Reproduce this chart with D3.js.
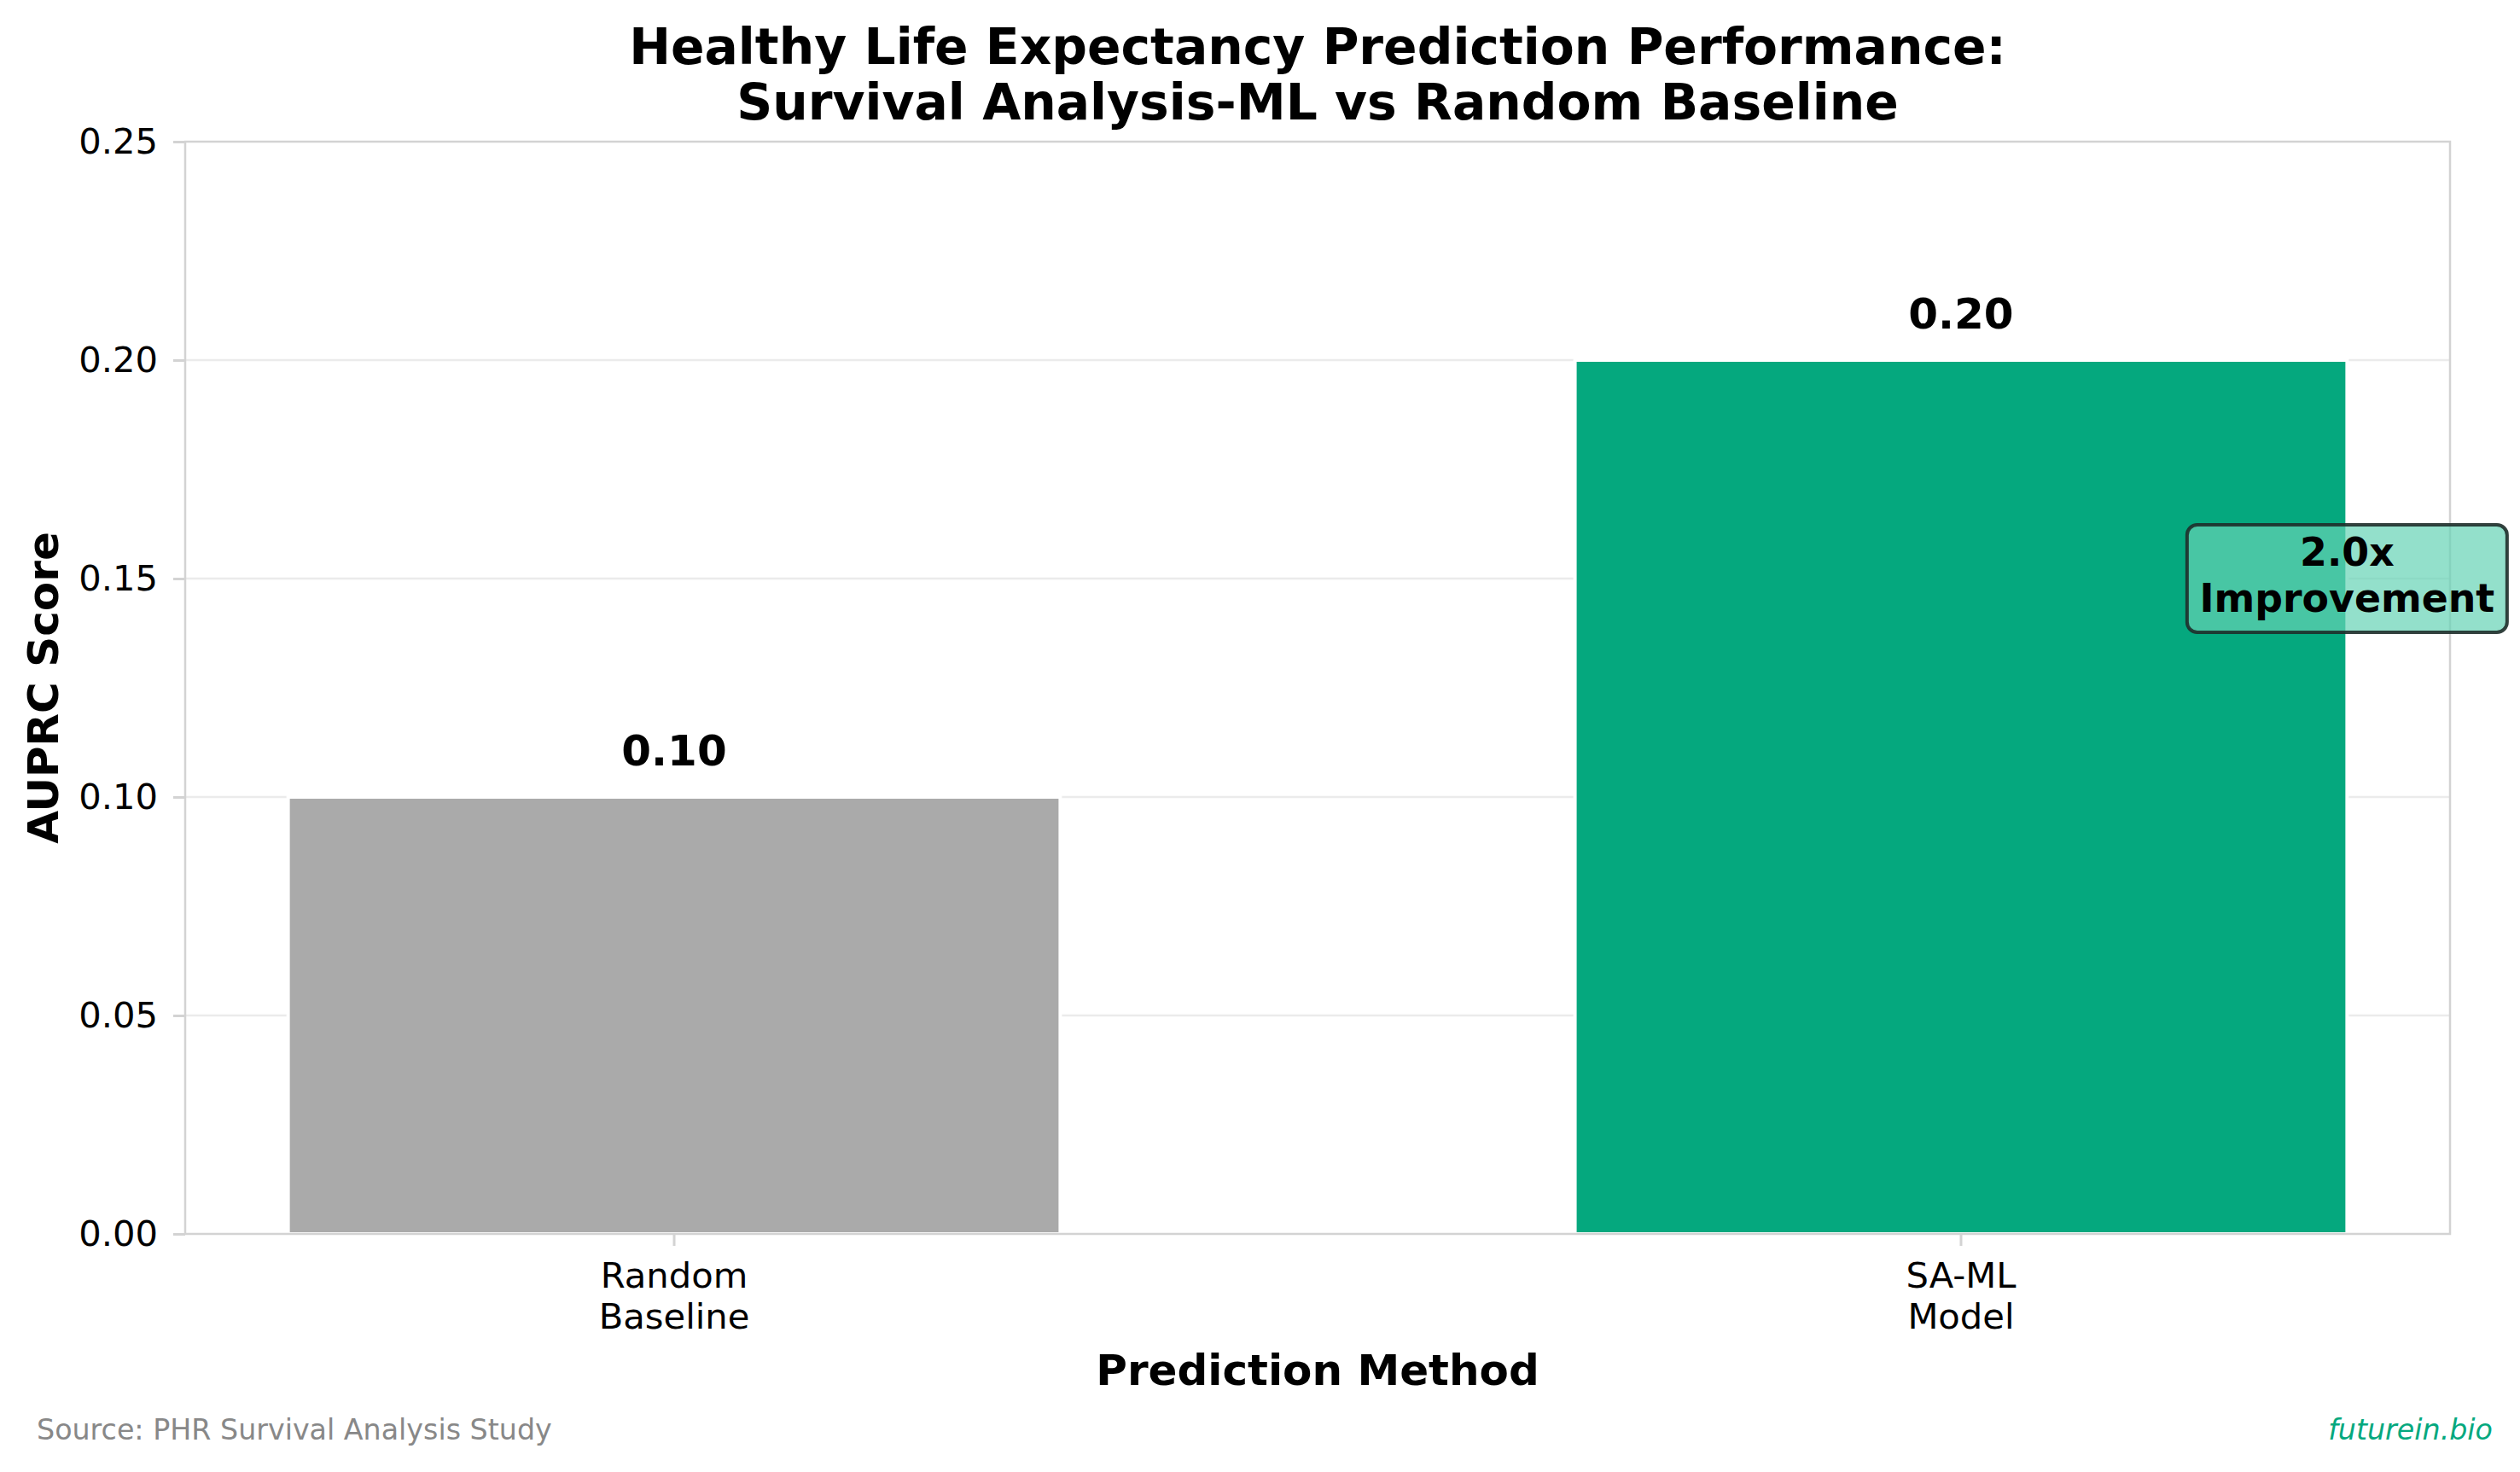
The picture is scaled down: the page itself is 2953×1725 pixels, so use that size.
<!DOCTYPE html>
<html>
<head>
<meta charset="utf-8">
<script src="https://cdn.jsdelivr.net/npm/d3@7"></script>
<style>
  html, body { margin: 0; padding: 0; background: #ffffff; }
  svg { display: block; font-family: "DejaVu Sans", sans-serif; }
</style>
</head>
<body>
<svg id="chart" width="2953" height="1725"></svg>
<script>
// ---- data ----
const categories = ["Random\nBaseline", "SA-ML\nModel"];
const values = [0.10, 0.20];
const valueLabels = ["0.10", "0.20"];
const barColors = ["#aaaaaa", "#05a87e"];
const yTicks = [0.00, 0.05, 0.10, 0.15, 0.20, 0.25];
const titleLines = ["Healthy Life Expectancy Prediction Performance:", "Survival Analysis-ML vs Random Baseline"];
const annotationLines = ["2.0x", "Improvement"];
const annotationValue = 0.15;

// ---- layout ----
const W = 2953, H = 1725;
const L = 217, R = 2871, T = 166, B = 1446;
const svg = d3.select("#chart");

const x = d3.scaleBand().domain(d3.range(categories.length)).range([L, R])
  .paddingInner(0.4).paddingOuter(0.08);
const y = d3.scaleLinear().domain([0, 0.25]).range([B, T]);

// grid
svg.append("g").selectAll("line").data(yTicks.slice(1, -1)).join("line")
  .attr("x1", L).attr("x2", R)
  .attr("y1", d => y(d)).attr("y2", d => y(d))
  .attr("stroke", "#ebebeb").attr("stroke-width", 2.5);

// bars
svg.append("g").selectAll("rect").data(values).join("rect")
  .attr("x", (d, i) => x(i))
  .attr("width", x.bandwidth())
  .attr("y", d => y(d))
  .attr("height", d => y(0) - y(d))
  .attr("fill", (d, i) => barColors[i])
  .attr("stroke", "#ffffff").attr("stroke-width", 4);

// spines
svg.append("rect").attr("x", L).attr("y", T).attr("width", R - L).attr("height", B - T)
  .attr("fill", "none").attr("stroke", "#d3d3d3").attr("stroke-width", 2.5);

// y axis
const yAxis = svg.append("g").attr("transform", `translate(${L},0)`)
  .call(d3.axisLeft(y).tickValues(yTicks).tickFormat(d3.format(".2f")).tickSize(14).tickPadding(18));
yAxis.select(".domain").remove();
yAxis.selectAll(".tick line").attr("stroke", "#d3d3d3").attr("stroke-width", 3);
yAxis.selectAll(".tick text").attr("font-size", 41.7).attr("fill", "#000")
  .attr("font-family", "DejaVu Sans");

// x axis
const xAxis = svg.append("g").attr("transform", `translate(0,${B})`)
  .call(d3.axisBottom(x).tickFormat(() => "").tickSize(14));
xAxis.select(".domain").remove();
xAxis.selectAll(".tick line").attr("stroke", "#d3d3d3").attr("stroke-width", 3);
xAxis.selectAll(".tick").each(function(d) {
  const lines = categories[d].split("\n");
  const t = d3.select(this).append("text").attr("fill", "#000")
    .attr("font-size", 41.7).attr("text-anchor", "middle").attr("font-family", "DejaVu Sans");
  lines.forEach((ln, k) => {
    t.append("tspan").attr("x", 0).attr("y", 63 + k * 48).text(ln);
  });
});

// value labels
svg.append("g").selectAll("text").data(values).join("text")
  .attr("x", (d, i) => x(i) + x.bandwidth() / 2)
  .attr("y", d => y(d) - 37)
  .attr("text-anchor", "middle").attr("font-size", 50).attr("font-weight", "bold")
  .attr("fill", "#000").text((d, i) => valueLabels[i]);

// annotation
const ax = x(1) + x.bandwidth();
const ay = y(annotationValue);
const ann = svg.append("g");
const bw = 375, bh = 126;
ann.append("rect").attr("x", ax - bw / 2).attr("y", ay - bh / 2)
  .attr("width", bw).attr("height", bh).attr("rx", 12).attr("ry", 12)
  .attr("fill", "#65d3b5").attr("fill-opacity", 0.7)
  .attr("stroke", "#1e2e2a").attr("stroke-opacity", 0.9).attr("stroke-width", 4);
annotationLines.forEach((ln, k) => {
  ann.append("text").attr("x", ax).attr("y", ay - 15 + k * 54)
    .attr("text-anchor", "middle").attr("font-size", 45.8).attr("font-weight", "bold")
    .attr("fill", "#000").text(ln);
});

// axis labels
svg.append("text").attr("x", (L + R) / 2).attr("y", 1623)
  .attr("text-anchor", "middle").attr("font-size", 50).attr("font-weight", "bold")
  .attr("fill", "#000").text("Prediction Method");
svg.append("text").attr("transform", `translate(68,${(T + B) / 2}) rotate(-90)`)
  .attr("text-anchor", "middle").attr("font-size", 50).attr("font-weight", "bold")
  .attr("fill", "#000").text("AUPRC Score");

// title
titleLines.forEach((ln, k) => {
  svg.append("text").attr("x", (L + R) / 2).attr("y", 75 + k * 65)
    .attr("text-anchor", "middle").attr("font-size", 58.3).attr("font-weight", "bold")
    .attr("fill", "#000").text(ln);
});

// footer
svg.append("text").attr("x", 43).attr("y", 1687).attr("font-size", 33.3)
  .attr("fill", "#888888").text("Source: PHR Survival Analysis Study");
svg.append("text").attr("x", 2921).attr("y", 1687).attr("font-size", 33.3)
  .attr("text-anchor", "end").attr("font-style", "italic")
  .attr("fill", "#05a87e").text("futurein.bio");
</script>
</body>
</html>
